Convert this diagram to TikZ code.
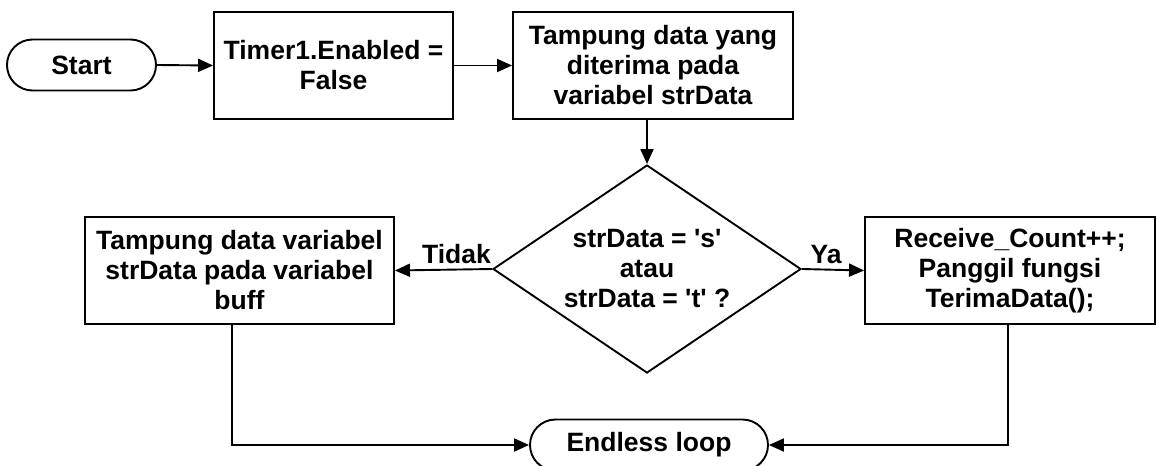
\documentclass[tikz,border=0pt]{standalone}
\usepackage{fontspec}
\setmainfont{Liberation Sans}
\newfontfamily\arialfont{Liberation Sans}
\usetikzlibrary{shapes.geometric,shapes.misc,arrows.meta}
\begin{document}
\begin{tikzpicture}[x=1pt,y=-1pt,
  every node/.style={font=\arialfont\fontsize{26.5}{30}\selectfont\bfseries, align=center, inner sep=0pt},
  box/.style={draw, line width=1.9pt, minimum height=107pt},
  term/.style={draw, line width=1.9pt, rounded rectangle, minimum height=51pt},
  decision/.style={draw, line width=1.9pt, diamond, aspect=1.48, minimum width=308pt, minimum height=208pt},
  flow/.style={line width=1.9pt, -{Triangle[length=15pt,width=13pt]}},
  lbl/.style={anchor=base}
]
\useasboundingbox (0,0) rectangle (1157,466);
\node[term, minimum width=149pt] (start) at (81.5,65) {Start};
\node[box, minimum width=239pt] (timer) at (333.5,65.5) {Timer1.Enabled =\\False};
\node[box, minimum width=280pt] (tamp) at (653,65.5) {Tampung data yang\\diterima pada\\variabel strData};
\node[decision] (dec) at (647,269) {strData = 's'\\atau\\strData = 't' ?};
\node[box, minimum width=309pt] (left) at (239.5,270.5) {Tampung data variabel\\strData pada variabel\\buff};
\node[box, minimum width=290pt] (right) at (1010,270.5) {Receive\_Count++;\\Panggil fungsi\\TerimaData();};
\node[term, minimum width=238pt] (end) at (649,445) {Endless loop};

\draw[flow] (start.east) -- (timer.west);
\draw[flow] (timer.east) -- (tamp.west);
\draw[flow] (dec.north |- tamp.south) -- (dec.north);
\draw[flow] (dec.west) -- (left.east);
\draw[flow] (dec.east) -- (right.west);
\draw[flow] ([xshift=-7.5pt]left.south) |- (end.west);
\draw[flow] ([xshift=-2pt]right.south) |- (end.east);

\node[lbl] (tidak) at (456.5,263) {Tidak};
\node[lbl] (ya) at (826,263) {Ya};
\end{tikzpicture}
\end{document}
